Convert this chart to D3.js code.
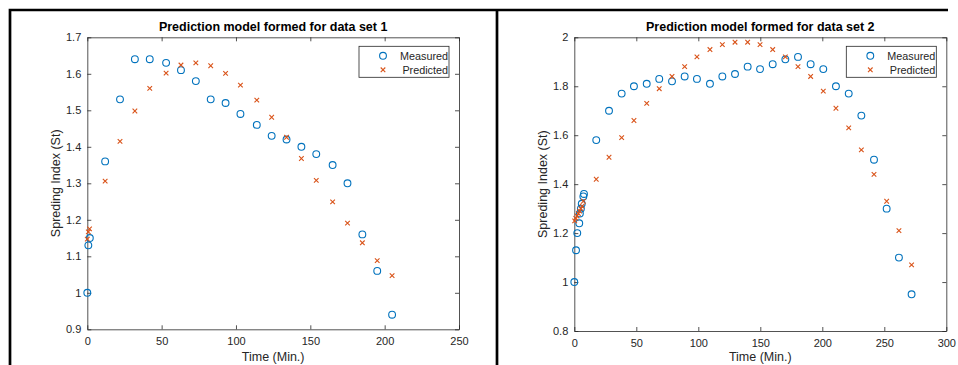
<!DOCTYPE html>
<html>
<head>
<meta charset="utf-8">
<script src="https://cdn.jsdelivr.net/npm/d3@7"></script>
<style>
  body { margin: 0; background: white; }
  svg { display: block; font-family: "Liberation Sans", Arial, sans-serif; }
  .tick text { fill: #262626; font-size: 11px; }
  .title { font-weight: bold; font-size: 12.5px; fill: black; }
  .label { font-size: 12.5px; fill: #262626; }
  .legendText { font-size: 10.8px; fill: #262626; }
</style>
</head>
<body>
<svg></svg>
<script>
// data set 1
var time1Measured = [0, 0.7, 1.7, 12, 22, 32, 42, 53, 63, 73, 83, 93, 103, 114, 124, 134, 144, 154, 165, 175, 185, 195, 205]
var measured1 = [1.00, 1.13, 1.15, 1.36, 1.53, 1.64, 1.64, 1.63, 1.61, 1.58, 1.53, 1.52, 1.49, 1.46, 1.43, 1.42, 1.40, 1.38, 1.35, 1.30, 1.16, 1.06, 0.94]
var time1Predicted = [0, 0.7, 1.5, 12, 22, 32, 42, 53, 63, 73, 83, 93, 103, 114, 124, 134, 144, 154, 165, 175, 185, 195, 205]
var predicted1 = [1.147, 1.167, 1.175, 1.306, 1.415, 1.498, 1.560, 1.602, 1.624, 1.630, 1.622, 1.601, 1.569, 1.528, 1.481, 1.426, 1.368, 1.308, 1.249, 1.191, 1.137, 1.088, 1.047]

// data set 2
var time2Measured = [0, 1.4, 2.4, 4, 4.5, 5.3, 6, 7.3, 7.8, 17.7, 28, 38.2, 48.1, 58.4, 68.5, 78.8, 89, 98.9, 109.4, 119.4, 129.6, 139.8, 149.8, 160, 170.2, 180.4, 190.6, 200.8, 211, 221.3, 231.5, 241.7, 251.9, 261.8, 272]
var measured2 = [1.00, 1.13, 1.20, 1.24, 1.28, 1.30, 1.32, 1.35, 1.36, 1.58, 1.70, 1.77, 1.80, 1.81, 1.83, 1.82, 1.84, 1.83, 1.81, 1.84, 1.85, 1.88, 1.87, 1.89, 1.91, 1.92, 1.89, 1.87, 1.80, 1.77, 1.68, 1.50, 1.30, 1.10, 0.95]
var time2Predicted = [0.3, 1.2, 2.2, 3.3, 4.3, 5.3, 6.3, 7.3, 17.7, 28, 38.2, 48.1, 58.4, 68.5, 78.8, 89, 98.9, 109.4, 119.4, 129.6, 139.8, 149.8, 160, 170.2, 180.4, 190.6, 200.8, 211, 221.3, 231.5, 241.7, 251.9, 261.8, 272]
var predicted2 = [1.25, 1.26, 1.27, 1.28, 1.29, 1.30, 1.31, 1.33, 1.42, 1.51, 1.59, 1.66, 1.73, 1.79, 1.84, 1.88, 1.92, 1.95, 1.97, 1.98, 1.98, 1.97, 1.95, 1.92, 1.88, 1.84, 1.78, 1.71, 1.63, 1.54, 1.44, 1.33, 1.21, 1.07]

var xTicks1 = [0, 50, 100, 150, 200, 250]
var yTicks1 = [0.9, 1, 1.1, 1.2, 1.3, 1.4, 1.5, 1.6, 1.7]
var xTicks2 = [0, 50, 100, 150, 200, 250, 300]
var yTicks2 = [0.8, 1, 1.2, 1.4, 1.6, 1.8, 2]

var blue = "#0072BD"
var orange = "#D95319"
var axisColor = "#262626"

var zip = function (xs, ys) {
    return xs.map(function (x, i) {
        return { t: x, v: ys[i] }
    })
}

var crossPath = function (s) {
    return "M" + (-s) + "," + (-s) + "L" + s + "," + s +
        "M" + (-s) + "," + s + "L" + s + "," + (-s)
}

var svg = d3.select("svg")
    .attr("width", 958)
    .attr("height", 365)

//box = pixel edges of the plot area
var drawPanel = function (p) {
    var xScale = d3.scaleLinear()
        .domain(p.xDomain)
        .range([p.box.left, p.box.right])
    var yScale = d3.scaleLinear()
        .domain(p.yDomain)
        .range([p.box.bottom, p.box.top])

    var g = svg.append("g")

    var axisStyle = function (sel) {
        sel.select(".domain").attr("stroke", axisColor).attr("stroke-width", 0.8)
        sel.selectAll(".tick line").attr("stroke", axisColor).attr("stroke-width", 0.8)
    }

    // bottom and left with labels, top and right only ticks (box on)
    g.append("g")
        .attr("transform", "translate(0," + p.box.bottom + ")")
        .call(d3.axisBottom(xScale).tickValues(p.xTicks).tickSizeInner(-4).tickSizeOuter(0).tickPadding(8))
        .call(axisStyle)
    g.append("g")
        .attr("transform", "translate(" + p.box.left + ",0)")
        .call(d3.axisLeft(yScale).tickValues(p.yTicks).tickSizeInner(-4).tickSizeOuter(0).tickPadding(6)
            .tickFormat(d3.format("~g")))
        .call(axisStyle)
    g.append("g")
        .attr("transform", "translate(0," + p.box.top + ")")
        .call(d3.axisTop(xScale).tickValues(p.xTicks).tickSizeInner(-4).tickSizeOuter(0).tickFormat(""))
        .call(axisStyle)
    g.append("g")
        .attr("transform", "translate(" + p.box.right + ",0)")
        .call(d3.axisRight(yScale).tickValues(p.yTicks).tickSizeInner(-4).tickSizeOuter(0).tickFormat(""))
        .call(axisStyle)

    g.selectAll(".tick text").attr("font-family", null).attr("font-size", null)

    // measured circles
    g.append("g")
        .selectAll("circle")
        .data(zip(p.tMeasured, p.measured))
        .enter()
        .append("circle")
        .attr("cx", function (d) { return xScale(d.t) })
        .attr("cy", function (d) { return yScale(d.v) })
        .attr("r", 3.4)
        .attr("fill", "none")
        .attr("stroke", blue)
        .attr("stroke-width", 1.1)

    // predicted crosses
    g.append("g")
        .selectAll("path")
        .data(zip(p.tPredicted, p.predicted))
        .enter()
        .append("path")
        .attr("transform", function (d) {
            return "translate(" + xScale(d.t) + "," + yScale(d.v) + ")"
        })
        .attr("d", crossPath(2.3))
        .attr("stroke", orange)
        .attr("stroke-width", 1.1)

    var midX = (p.box.left + p.box.right) / 2
    g.append("text")
        .classed("title", true)
        .attr("text-anchor", "middle")
        .attr("x", midX)
        .attr("y", p.box.top - 6)
        .text(p.title)
    g.append("text")
        .classed("label", true)
        .attr("text-anchor", "middle")
        .attr("x", midX)
        .attr("y", 361)
        .text("Time (Min.)")
    g.append("text")
        .classed("label", true)
        .attr("text-anchor", "middle")
        .attr("transform", "translate(" + p.yLabelX + "," + ((p.box.top + p.box.bottom) / 2) + ") rotate(-90)")
        .text("Spreding Index (St)")

    // legend
    var legend = g.append("g")
        .attr("transform", "translate(" + (p.box.right - 100) + "," + (p.box.top + 9) + ")")
    legend.append("rect")
        .attr("width", 90)
        .attr("height", 31)
        .attr("fill", "white")
        .attr("stroke", axisColor)
        .attr("stroke-width", 0.8)
    legend.append("circle")
        .attr("cx", 24)
        .attr("cy", 9.5)
        .attr("r", 3.4)
        .attr("fill", "none")
        .attr("stroke", blue)
        .attr("stroke-width", 1.1)
    legend.append("path")
        .attr("transform", "translate(24,23.5)")
        .attr("d", crossPath(2.3))
        .attr("stroke", orange)
        .attr("stroke-width", 1.1)
    legend.append("text")
        .classed("legendText", true)
        .attr("text-anchor", "end")
        .attr("x", 89)
        .attr("y", 13.5)
        .text("Measured")
    legend.append("text")
        .classed("legendText", true)
        .attr("text-anchor", "end")
        .attr("x", 89)
        .attr("y", 27.5)
        .text("Predicted")
}

// outer frame lines
svg.append("path")
    .attr("d", "M10,365V10H948M497,10V365")
    .attr("fill", "none")
    .attr("stroke", "black")
    .attr("stroke-width", 2.7)

drawPanel({
    title: "Prediction model formed for data set 1",
    box: { left: 87.3, right: 459, top: 37.3, bottom: 329.3 },
    xDomain: [0, 250],
    yDomain: [0.9, 1.7],
    xTicks: xTicks1,
    yTicks: yTicks1,
    tMeasured: time1Measured,
    measured: measured1,
    tPredicted: time1Predicted,
    predicted: predicted1,
    yLabelX: 60
})

drawPanel({
    title: "Prediction model formed for data set 2",
    box: { left: 574.3, right: 946.3, top: 37.3, bottom: 331 },
    xDomain: [0, 300],
    yDomain: [0.8, 2],
    xTicks: xTicks2,
    yTicks: yTicks2,
    tMeasured: time2Measured,
    measured: measured2,
    tPredicted: time2Predicted,
    predicted: predicted2,
    yLabelX: 547
})
</script>
</body>
</html>
